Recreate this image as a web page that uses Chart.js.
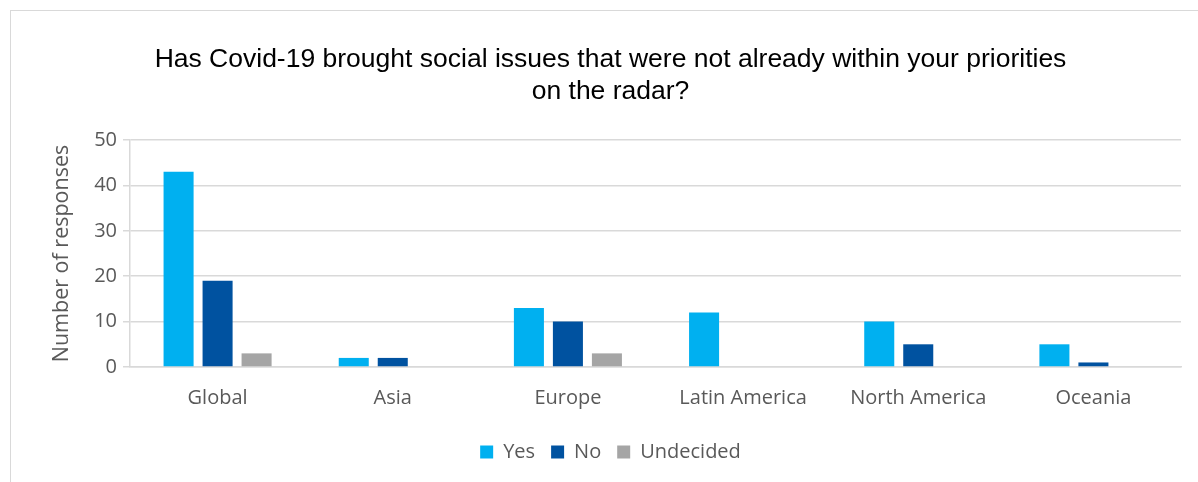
<!DOCTYPE html>
<html><head><meta charset="utf-8">
<script src="https://cdn.jsdelivr.net/npm/chart.js@4/dist/chart.umd.min.js"></script>
<style>
html,body{margin:0;padding:0;background:#fff;}
#wrap{position:absolute;left:0;top:0;width:1198px;height:482px;}
#frame{position:absolute;left:10px;top:10px;width:1300px;height:600px;border-left:1px solid #d9d9d9;border-top:1px solid #d9d9d9;}
canvas{position:absolute;left:0;top:0;}
</style></head><body>
<div id="wrap"><div id="frame"></div><canvas id="c" width="1198" height="482"></canvas></div>
<script>
const categories = ["Global","Asia","Europe","Latin America","North America","Oceania"];
const yesValues = [43,2,13,12,10,5];
const noValues = [19,2,10,0,5,1];
const undecidedValues = [3,0,3,0,0,0];
const yTicks = [0,10,20,30,40,50];
const titleLines = ["Has Covid-19 brought social issues that were not already within your priorities","on the radar?"];

const sideFont = "'Open Sans', sans-serif";
new Chart(document.getElementById('c'), {
  type: 'bar',
  data: {
    labels: categories,
    datasets: [
      {label:'Yes', data: yesValues, backgroundColor:'#00B0F0'},
      {label:'No', data: noValues, backgroundColor:'#0052A0'},
      {label:'Undecided', data: undecidedValues, backgroundColor:'#A5A5A5'}
    ]
  },
  options: {
    responsive:false, animation:false, devicePixelRatio:1,
    categoryPercentage:0.668, barPercentage:0.77,
    layout:{padding:{left:40,right:17,top:0,bottom:10}},
    plugins:{
      title:{display:true,text:titleLines,color:'#000',font:{family:"'Liberation Sans', Arial, sans-serif",size:26.5,weight:'normal',lineHeight:1.2075},padding:{top:44,bottom:32}},
      legend:{position:'bottom',labels:{color:'#595959',font:{family:sideFont,size:20},boxWidth:13,boxHeight:13,padding:16},onClick:null},
      tooltip:{enabled:false}
    },
    scales:{
      x:{grid:{display:false,drawTicks:false},border:{color:'#d9d9d9',width:1.5},
         ticks:{color:'#595959',font:{family:sideFont,size:20},padding:19,maxRotation:0},
         afterFit:(ax)=>{ax.height=59;}},
      y:{min:0,max:50,afterBuildTicks:(ax)=>{ax.ticks=yTicks.map(v=>({value:v}));},
         grid:{color:'#d9d9d9',lineWidth:1.5,tickLength:7},border:{color:'#d9d9d9',display:true,width:1.5},
         ticks:{color:'#595959',font:{family:sideFont,size:20},padding:6},
         title:{display:true,text:'Number of responses',color:'#595959',font:{family:sideFont,size:21.5},padding:{top:9,bottom:0}},
         afterFit:(ax)=>{ax.width=90;}}
    }
  }
});
</script></body></html>
